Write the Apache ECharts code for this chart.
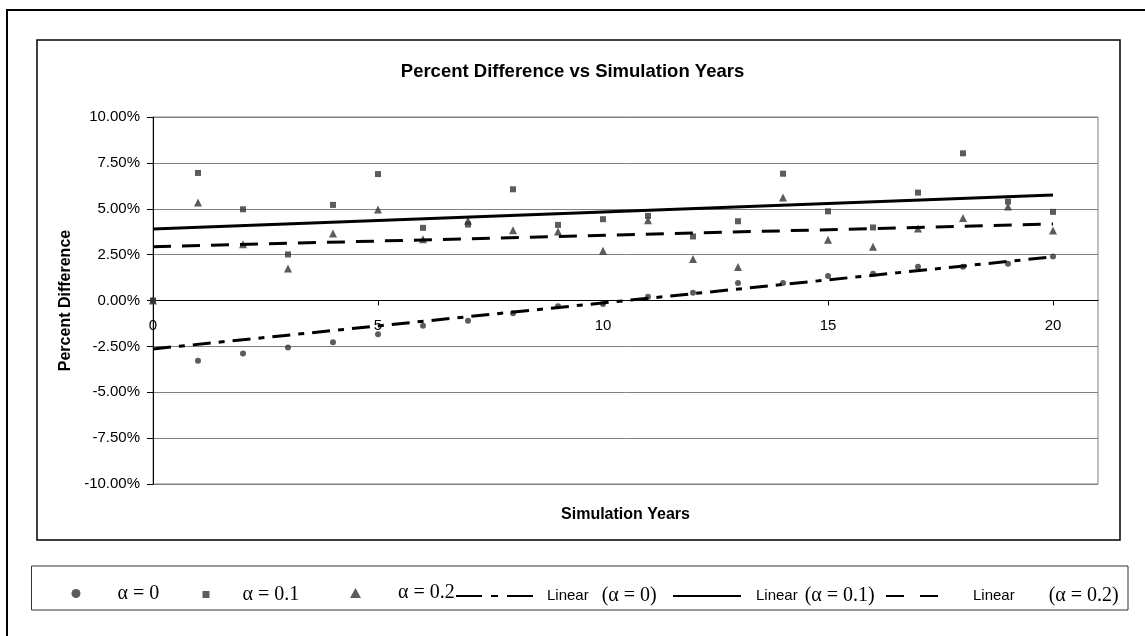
<!DOCTYPE html>
<html>
<head>
<meta charset="utf-8">
<script src="https://cdn.jsdelivr.net/npm/echarts@6.0.0/dist/echarts.min.js"></script>
<style>
  html, body { margin: 0; padding: 0; background: #fff; }
  #chart { width: 1145px; height: 636px; }
</style>
</head>
<body>
<div id="chart"></div>
<script>
// values (percent)
const years = [0, 1, 2, 3, 4, 5, 6, 7, 8, 9, 10, 11, 12, 13, 14, 15, 16, 17, 18, 19, 20]
const alpha0 = [0, -3.29, -2.89, -2.56, -2.27, -1.84, -1.37, -1.10, -0.70, -0.32, -0.19, 0.21, 0.42, 0.95, 0.95, 1.33, 1.46, 1.84, 1.84, 2.00, 2.40]
const alpha01 = [0, 6.95, 4.97, 2.51, 5.21, 6.89, 3.96, 4.14, 6.06, 4.12, 4.43, 4.61, 3.49, 4.32, 6.91, 4.86, 3.98, 5.88, 8.02, 5.39, 4.83]
const alpha02 = [0, 5.34, 3.07, 1.75, 3.65, 4.96, 3.34, 4.34, 3.83, 3.76, 2.71, 4.38, 2.26, 1.82, 5.61, 3.31, 2.93, 3.92, 4.50, 5.12, 3.82]

// trendline end points (x = 0 and x = 20)
const trendX = [0, 20]
const trend0 = [-2.64, 2.38]
const trend01 = [3.89, 5.75]
const trend02 = [2.93, 4.17]

const xTicks = [0, 5, 10, 15, 20]

const SANS = 'Liberation Sans'
const SERIF = 'Liberation Serif'
const MARK = '#333'

const pairs = (xs, ys) => xs.map((x, i) => [x, ys[i]])

const chart = echarts.init(document.getElementById('chart'))

function scatter(name, data, symbol, size, z) {
    return {
        name,
        type: 'scatter',
        data: pairs(years, data),
        symbol,
        symbolSize: size,
        itemStyle: { color: MARK },
        z,
    }
}

function trend(name, data, dash) {
    return {
        name,
        type: 'line',
        data: pairs(trendX, data),
        symbol: 'none',
        lineStyle: { color: '#000', width: 3, type: dash },
        itemStyle: { color: '#000' },
        z: 6,
    }
}

const dashDot = [18, 8, 6, 8]
const dashed = [18, 11]

const richText = {
    a: { fontFamily: SANS, fontSize: 15, color: '#000' },
    b: { fontFamily: SERIF, fontSize: 20, color: '#000' },
}

function legendItem(name, left, size, opts) {
    return Object.assign({
        data: [name],
        left,
        top: 588 - size.h / 2,
        padding: 0,
        itemWidth: size.w,
        itemHeight: size.h,
        selectedMode: false,
    }, opts)
}

const serifLabel = (pad) => ({
    formatter: (n) => `{b|${n}}`,
    textStyle: { rich: richText, padding: [0, 0, 0, pad] },
})
const linearLabel = (pad, gap, dash) => ({
    formatter: (n) => `{a|Linear}{c|${n.replace('Linear ', '')}}`,
    textStyle: {
        padding: [0, 0, 0, pad],
        rich: Object.assign({}, richText, { c: { fontFamily: SERIF, fontSize: 20, color: '#000', padding: [0, 0, 0, gap] } }),
    },
    itemStyle: { opacity: 0 },
    lineStyle: { type: dash },
})

chart.setOption({
    animation: false,
    backgroundColor: '#fff',
    title: {
        text: 'Percent Difference vs Simulation Years',
        left: 'center',
        top: 57,
        textStyle: { fontFamily: SANS, fontSize: 18.5, fontWeight: 'bold', color: '#000' },
    },
    grid: {
        left: 153,
        right: 47,
        top: 117,
        bottom: 152,
        outerBoundsMode: 'none',
        show: true,
        borderColor: '#808080',
        borderWidth: 1,
    },
    xAxis: {
        type: 'value',
        min: 0,
        max: 21,
        interval: 5,
        name: 'Simulation Years',
        nameLocation: 'middle',
        nameGap: 206,
        nameTextStyle: { fontFamily: SANS, fontSize: 16, fontWeight: 'bold', color: '#000' },
        axisLine: { onZero: false, lineStyle: { color: '#000', width: 1 } },
        axisTick: { length: 5, customValues: xTicks, lineStyle: { color: '#000' } },
        axisLabel: { customValues: xTicks, margin: 18, fontFamily: SANS, fontSize: 15, color: '#000' },
        splitLine: { show: false },
    },
    yAxis: {
        type: 'value',
        min: -10,
        max: 10,
        interval: 2.5,
        name: 'Percent Difference',
        nameLocation: 'middle',
        nameGap: 74,
        nameTextStyle: { fontFamily: SANS, fontSize: 16, fontWeight: 'bold', color: '#000' },
        axisLine: { show: true, onZero: false, lineStyle: { color: '#000', width: 1 } },
        axisTick: { show: true, length: 6, lineStyle: { color: '#000' } },
        axisLabel: {
            margin: 13,
            fontFamily: SANS,
            fontSize: 15,
            color: '#000',
            formatter: (v) => v.toFixed(2) + '%',
        },
        splitLine: { show: true, lineStyle: { color: '#808080', width: 1 } },
    },
    legend: [
        legendItem('α = 0', 71.5, { w: 9, h: 9 }, serifLabel(32)),
        legendItem('α = 0.1', 202.5, { w: 7, h: 7 }, serifLabel(28)),
        legendItem('α = 0.2', 350, { w: 11, h: 10 }, serifLabel(32)),
        legendItem('Linear (α = 0)', 455, { w: 78, h: 4 }, linearLabel(8, 13, [26, 9, 7, 9])),
        legendItem('Linear (α = 0.1)', 672, { w: 68, h: 4 }, linearLabel(10, 7, 'solid')),
        legendItem('Linear (α = 0.2)', 885, { w: 52, h: 4 }, linearLabel(30, 34, [18, 16])),
    ],
    graphic: [
        {
            type: 'rect',
            shape: { x: 7, y: 10, width: 1200, height: 700 },
            style: { fill: 'none', stroke: '#000', lineWidth: 2 },
            silent: true,
        },
        {
            type: 'rect',
            shape: { x: 37, y: 40, width: 1083, height: 500 },
            style: { fill: 'none', stroke: '#000', lineWidth: 1.5 },
            silent: true,
        },
        {
            type: 'rect',
            shape: { x: 31.5, y: 566, width: 1096.5, height: 44 },
            style: { fill: 'none', stroke: '#333', lineWidth: 1 },
            silent: true,
        },
    ],
    series: [
        scatter('α = 0', alpha0, 'circle', 6, 3),
        scatter('α = 0.1', alpha01, 'rect', 6, 5),
        scatter('α = 0.2', alpha02, 'triangle', 8, 4),
        trend('Linear (α = 0)', trend0, dashDot),
        trend('Linear (α = 0.1)', trend01, 'solid'),
        trend('Linear (α = 0.2)', trend02, dashed),
    ],
})

// move the x axis up so it crosses the y axis at 0
const zeroY = chart.convertToPixel({ yAxisIndex: 0 }, 0)
const bottomY = chart.convertToPixel({ yAxisIndex: 0 }, -10)
chart.setOption({ xAxis: { offset: zeroY - bottomY } })

window.addEventListener('resize', () => chart.resize())
</script>
</body>
</html>
